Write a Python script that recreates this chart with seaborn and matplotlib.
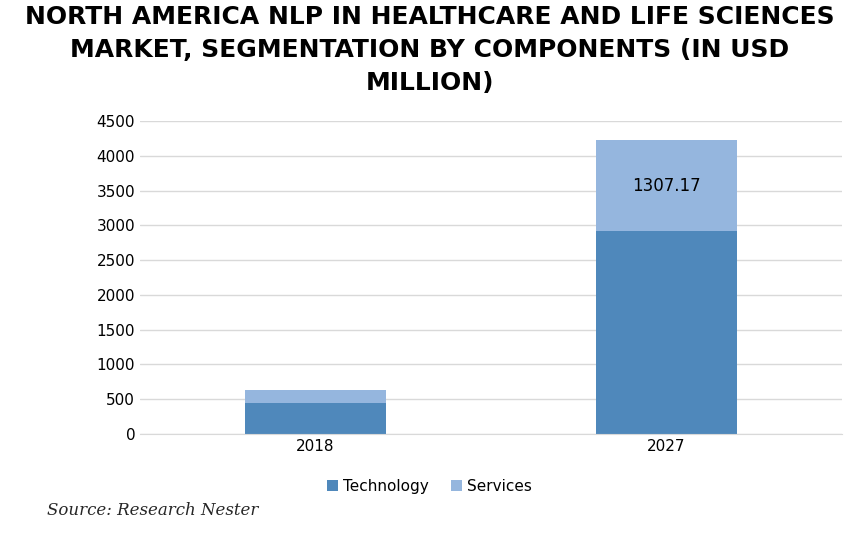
import matplotlib
matplotlib.use("Agg")
import matplotlib.pyplot as plt
import seaborn as sns
import pandas as pd

years = ["2018", "2027"]
technology = [445, 2917]
services = [187, 1307.17]

df = pd.DataFrame({"year": years, "Technology": technology, "Services": services})

sns.set_style("white")
fig, ax = plt.subplots(figsize=(8.59, 5.45), dpi=100)
fig.subplots_adjust(left=0.163, right=0.98, top=0.778, bottom=0.204)

c_tech = "#4f88bb"
c_serv = "#95b6de"
sns.barplot(data=df, x="year", y="Technology", color=c_tech, width=0.4, ax=ax,
            label="Technology", saturation=1, linewidth=0)
bottoms = df["Technology"].tolist()
ax.bar(range(len(years)), services, bottom=bottoms, width=0.4, color=c_serv, label="Services", linewidth=0)
ax.text(1, technology[1] + services[1] / 2, "1307.17", ha="center", va="center", fontsize=12, color="black")

ax.set_ylim(0, 4500)
ax.set_yticks(range(0, 4501, 500))
ax.set_xlim(-0.5, 1.5)
ax.yaxis.grid(True, color="#d9d9d9", lw=1)
ax.set_axisbelow(True)
for s in ["top", "right", "left"]:
    ax.spines[s].set_visible(False)
ax.spines["bottom"].set_color("#d9d9d9")
ax.set_xlabel("")
ax.set_ylabel("")
ax.tick_params(labelsize=11, length=0, labelcolor="black")

fig.suptitle("NORTH AMERICA NLP IN HEALTHCARE AND LIFE SCIENCES\nMARKET, SEGMENTATION BY COMPONENTS (IN USD\nMILLION)",
             fontsize=18, fontweight="bold", x=0.5, y=0.99, linespacing=1.45, color="black")
ax.legend(loc="center", bbox_to_anchor=(0.5, 0.108), bbox_transform=fig.transFigure, ncol=2, frameon=False,
          fontsize=11, handlelength=0.7, handletextpad=0.3, columnspacing=1.5, labelcolor="black")
fig.text(0.055, 0.055, "Source: Research Nester", fontsize=12, style="italic", family="DejaVu Serif")
fig.savefig("out.png")
